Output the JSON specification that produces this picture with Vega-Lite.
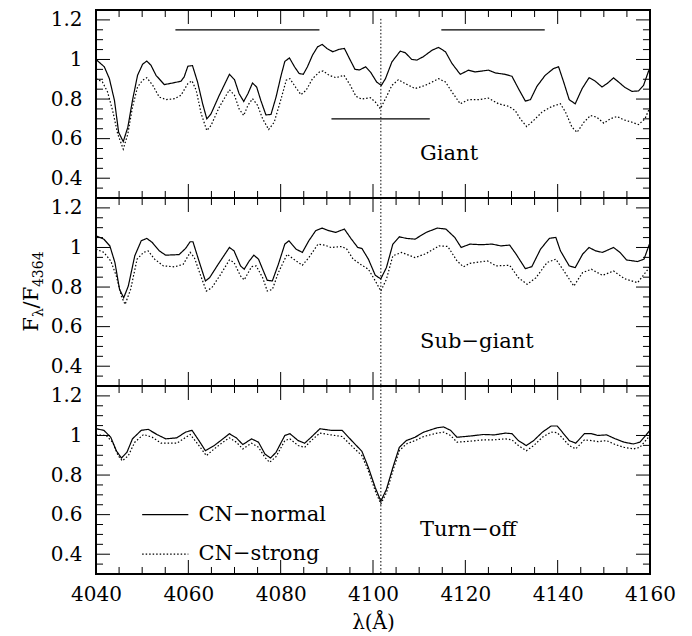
{
"$schema": "https://vega.github.io/schema/vega-lite/v6.json",
"padding": {"left": 19, "top": 8, "right": 10, "bottom": 2},
"background": "white",
"spacing": 0,
"bounds": "flush",
"config": {
  "view": {"stroke": "black", "strokeWidth": 2, "fill": "transparent"},
  "axis": {"domain": false, "grid": false, "ticks": false, "labelFont": "DejaVu Serif", "labelFontSize": 20, "labelColor": "black", "titleFont": "DejaVu Serif", "titleFontSize": 20, "titleFontWeight": "normal", "titleColor": "black", "labelOverlap": false, "labelFlush": false},
  "rule": {"color": "black", "strokeWidth": 1},
  "text": {"font": "DejaVu Serif", "fontSize": 21, "color": "black"}
},
"datasets": {
  "ticks": [
    {"xa":4060,"xb":4060,"ya":0.3,"yb":0.3707},{"xa":4080,"xb":4080,"ya":0.3,"yb":0.3707},{"xa":4100,"xb":4100,"ya":0.3,"yb":0.3707},{"xa":4120,"xb":4120,"ya":0.3,"yb":0.3707},{"xa":4140,"xb":4140,"ya":0.3,"yb":0.3707},
    {"xa":4060,"xb":4060,"ya":1.25,"yb":1.1793},{"xa":4080,"xb":4080,"ya":1.25,"yb":1.1793},{"xa":4100,"xb":4100,"ya":1.25,"yb":1.1793},{"xa":4120,"xb":4120,"ya":1.25,"yb":1.1793},{"xa":4140,"xb":4140,"ya":1.25,"yb":1.1793},
    {"xa":4045,"xb":4045,"ya":0.3,"yb":0.3354},{"xa":4050,"xb":4050,"ya":0.3,"yb":0.3354},{"xa":4055,"xb":4055,"ya":0.3,"yb":0.3354},{"xa":4065,"xb":4065,"ya":0.3,"yb":0.3354},{"xa":4070,"xb":4070,"ya":0.3,"yb":0.3354},{"xa":4075,"xb":4075,"ya":0.3,"yb":0.3354},{"xa":4085,"xb":4085,"ya":0.3,"yb":0.3354},{"xa":4090,"xb":4090,"ya":0.3,"yb":0.3354},{"xa":4095,"xb":4095,"ya":0.3,"yb":0.3354},{"xa":4105,"xb":4105,"ya":0.3,"yb":0.3354},{"xa":4110,"xb":4110,"ya":0.3,"yb":0.3354},{"xa":4115,"xb":4115,"ya":0.3,"yb":0.3354},{"xa":4125,"xb":4125,"ya":0.3,"yb":0.3354},{"xa":4130,"xb":4130,"ya":0.3,"yb":0.3354},{"xa":4135,"xb":4135,"ya":0.3,"yb":0.3354},{"xa":4145,"xb":4145,"ya":0.3,"yb":0.3354},{"xa":4150,"xb":4150,"ya":0.3,"yb":0.3354},{"xa":4155,"xb":4155,"ya":0.3,"yb":0.3354},
    {"xa":4045,"xb":4045,"ya":1.25,"yb":1.2146},{"xa":4050,"xb":4050,"ya":1.25,"yb":1.2146},{"xa":4055,"xb":4055,"ya":1.25,"yb":1.2146},{"xa":4065,"xb":4065,"ya":1.25,"yb":1.2146},{"xa":4070,"xb":4070,"ya":1.25,"yb":1.2146},{"xa":4075,"xb":4075,"ya":1.25,"yb":1.2146},{"xa":4085,"xb":4085,"ya":1.25,"yb":1.2146},{"xa":4090,"xb":4090,"ya":1.25,"yb":1.2146},{"xa":4095,"xb":4095,"ya":1.25,"yb":1.2146},{"xa":4105,"xb":4105,"ya":1.25,"yb":1.2146},{"xa":4110,"xb":4110,"ya":1.25,"yb":1.2146},{"xa":4115,"xb":4115,"ya":1.25,"yb":1.2146},{"xa":4125,"xb":4125,"ya":1.25,"yb":1.2146},{"xa":4130,"xb":4130,"ya":1.25,"yb":1.2146},{"xa":4135,"xb":4135,"ya":1.25,"yb":1.2146},{"xa":4145,"xb":4145,"ya":1.25,"yb":1.2146},{"xa":4150,"xb":4150,"ya":1.25,"yb":1.2146},{"xa":4155,"xb":4155,"ya":1.25,"yb":1.2146},
    {"xa":4040,"xb":4043.03,"ya":0.4,"yb":0.4},{"xa":4040,"xb":4043.03,"ya":0.6,"yb":0.6},{"xa":4040,"xb":4043.03,"ya":0.8,"yb":0.8},{"xa":4040,"xb":4043.03,"ya":1.0,"yb":1.0},{"xa":4040,"xb":4043.03,"ya":1.2,"yb":1.2},
    {"xa":4160,"xb":4156.97,"ya":0.4,"yb":0.4},{"xa":4160,"xb":4156.97,"ya":0.6,"yb":0.6},{"xa":4160,"xb":4156.97,"ya":0.8,"yb":0.8},{"xa":4160,"xb":4156.97,"ya":1.0,"yb":1.0},{"xa":4160,"xb":4156.97,"ya":1.2,"yb":1.2},
    {"xa":4040,"xb":4041.52,"ya":0.35,"yb":0.35},{"xa":4040,"xb":4041.52,"ya":0.45,"yb":0.45},{"xa":4040,"xb":4041.52,"ya":0.5,"yb":0.5},{"xa":4040,"xb":4041.52,"ya":0.55,"yb":0.55},{"xa":4040,"xb":4041.52,"ya":0.65,"yb":0.65},{"xa":4040,"xb":4041.52,"ya":0.7,"yb":0.7},{"xa":4040,"xb":4041.52,"ya":0.75,"yb":0.75},{"xa":4040,"xb":4041.52,"ya":0.85,"yb":0.85},{"xa":4040,"xb":4041.52,"ya":0.9,"yb":0.9},{"xa":4040,"xb":4041.52,"ya":0.95,"yb":0.95},{"xa":4040,"xb":4041.52,"ya":1.05,"yb":1.05},{"xa":4040,"xb":4041.52,"ya":1.1,"yb":1.1},{"xa":4040,"xb":4041.52,"ya":1.15,"yb":1.15},
    {"xa":4160,"xb":4158.48,"ya":0.35,"yb":0.35},{"xa":4160,"xb":4158.48,"ya":0.45,"yb":0.45},{"xa":4160,"xb":4158.48,"ya":0.5,"yb":0.5},{"xa":4160,"xb":4158.48,"ya":0.55,"yb":0.55},{"xa":4160,"xb":4158.48,"ya":0.65,"yb":0.65},{"xa":4160,"xb":4158.48,"ya":0.7,"yb":0.7},{"xa":4160,"xb":4158.48,"ya":0.75,"yb":0.75},{"xa":4160,"xb":4158.48,"ya":0.85,"yb":0.85},{"xa":4160,"xb":4158.48,"ya":0.9,"yb":0.9},{"xa":4160,"xb":4158.48,"ya":0.95,"yb":0.95},{"xa":4160,"xb":4158.48,"ya":1.05,"yb":1.05},{"xa":4160,"xb":4158.48,"ya":1.1,"yb":1.1},{"xa":4160,"xb":4158.48,"ya":1.15,"yb":1.15}
  ],
  "giant": [
    {"lam":4040,"f":1.0,"cn":"n"},{"lam":4041.8,"f":0.963,"cn":"n"},{"lam":4042.9,"f":0.903,"cn":"n"},{"lam":4044,"f":0.793,"cn":"n"},{"lam":4044.9,"f":0.632,"cn":"n"},{"lam":4045.9,"f":0.585,"cn":"n"},{"lam":4046.9,"f":0.658,"cn":"n"},{"lam":4047.9,"f":0.793,"cn":"n"},{"lam":4049,"f":0.92,"cn":"n"},{"lam":4050.1,"f":0.976,"cn":"n"},{"lam":4051,"f":0.992,"cn":"n"},{"lam":4051.9,"f":0.971,"cn":"n"},{"lam":4053,"f":0.92,"cn":"n"},{"lam":4054.8,"f":0.873,"cn":"n"},{"lam":4056.6,"f":0.881,"cn":"n"},{"lam":4058.4,"f":0.89,"cn":"n"},{"lam":4059.1,"f":0.912,"cn":"n"},{"lam":4059.9,"f":0.966,"cn":"n"},{"lam":4060.9,"f":0.969,"cn":"n"},{"lam":4062,"f":0.886,"cn":"n"},{"lam":4063.1,"f":0.776,"cn":"n"},{"lam":4064,"f":0.7,"cn":"n"},{"lam":4064.9,"f":0.725,"cn":"n"},{"lam":4066.7,"f":0.819,"cn":"n"},{"lam":4068.9,"f":0.925,"cn":"n"},{"lam":4070,"f":0.898,"cn":"n"},{"lam":4071,"f":0.827,"cn":"n"},{"lam":4072,"f":0.788,"cn":"n"},{"lam":4072.9,"f":0.827,"cn":"n"},{"lam":4073.9,"f":0.881,"cn":"n"},{"lam":4074.8,"f":0.861,"cn":"n"},{"lam":4075.7,"f":0.793,"cn":"n"},{"lam":4076.8,"f":0.72,"cn":"n"},{"lam":4077.9,"f":0.722,"cn":"n"},{"lam":4079,"f":0.81,"cn":"n"},{"lam":4080.1,"f":0.92,"cn":"n"},{"lam":4080.9,"f":0.99,"cn":"n"},{"lam":4081.9,"f":1.008,"cn":"n"},{"lam":4083,"f":0.963,"cn":"n"},{"lam":4084,"f":0.929,"cn":"n"},{"lam":4084.9,"f":0.925,"cn":"n"},{"lam":4085.8,"f":0.963,"cn":"n"},{"lam":4086.9,"f":1.022,"cn":"n"},{"lam":4088,"f":1.064,"cn":"n"},{"lam":4089,"f":1.076,"cn":"n"},{"lam":4090,"f":1.056,"cn":"n"},{"lam":4091.3,"f":1.039,"cn":"n"},{"lam":4092.6,"f":1.051,"cn":"n"},{"lam":4093.8,"f":1.056,"cn":"n"},{"lam":4095,"f":1.0,"cn":"n"},{"lam":4096.1,"f":0.95,"cn":"n"},{"lam":4097.1,"f":0.947,"cn":"n"},{"lam":4098.4,"f":0.963,"cn":"n"},{"lam":4099.5,"f":0.935,"cn":"n"},{"lam":4100.8,"f":0.886,"cn":"n"},{"lam":4101.8,"f":0.869,"cn":"n"},{"lam":4102.7,"f":0.903,"cn":"n"},{"lam":4104.1,"f":0.988,"cn":"n"},{"lam":4105.9,"f":1.042,"cn":"n"},{"lam":4107,"f":1.034,"cn":"n"},{"lam":4108.4,"f":1.0,"cn":"n"},{"lam":4109.5,"f":0.997,"cn":"n"},{"lam":4110.9,"f":1.014,"cn":"n"},{"lam":4112.8,"f":1.047,"cn":"n"},{"lam":4114.2,"f":1.061,"cn":"n"},{"lam":4115.7,"f":1.039,"cn":"n"},{"lam":4117.1,"f":0.98,"cn":"n"},{"lam":4118.9,"f":0.925,"cn":"n"},{"lam":4120.7,"f":0.946,"cn":"n"},{"lam":4122.1,"f":0.937,"cn":"n"},{"lam":4125,"f":0.946,"cn":"n"},{"lam":4126.5,"f":0.932,"cn":"n"},{"lam":4128.6,"f":0.925,"cn":"n"},{"lam":4130.1,"f":0.915,"cn":"n"},{"lam":4131.5,"f":0.853,"cn":"n"},{"lam":4133,"f":0.79,"cn":"n"},{"lam":4134.1,"f":0.797,"cn":"n"},{"lam":4135.5,"f":0.864,"cn":"n"},{"lam":4137.3,"f":0.92,"cn":"n"},{"lam":4139.1,"f":0.954,"cn":"n"},{"lam":4140.2,"f":0.963,"cn":"n"},{"lam":4141.3,"f":0.886,"cn":"n"},{"lam":4142.5,"f":0.797,"cn":"n"},{"lam":4143.8,"f":0.776,"cn":"n"},{"lam":4145.3,"f":0.853,"cn":"n"},{"lam":4146.8,"f":0.908,"cn":"n"},{"lam":4148.1,"f":0.891,"cn":"n"},{"lam":4149.6,"f":0.861,"cn":"n"},{"lam":4150.7,"f":0.878,"cn":"n"},{"lam":4152.1,"f":0.907,"cn":"n"},{"lam":4153.2,"f":0.886,"cn":"n"},{"lam":4154.6,"f":0.858,"cn":"n"},{"lam":4156.1,"f":0.839,"cn":"n"},{"lam":4157.5,"f":0.841,"cn":"n"},{"lam":4158.6,"f":0.869,"cn":"n"},{"lam":4159.7,"f":0.942,"cn":"n"},{"lam":4160,"f":0.95,"cn":"n"},
    {"lam":4040,"f":0.903,"cn":"s"},{"lam":4041.4,"f":0.886,"cn":"s"},{"lam":4042.5,"f":0.836,"cn":"s"},{"lam":4043.6,"f":0.742,"cn":"s"},{"lam":4044.7,"f":0.624,"cn":"s"},{"lam":4045.9,"f":0.547,"cn":"s"},{"lam":4046.9,"f":0.624,"cn":"s"},{"lam":4047.9,"f":0.759,"cn":"s"},{"lam":4049,"f":0.861,"cn":"s"},{"lam":4050.1,"f":0.895,"cn":"s"},{"lam":4051,"f":0.908,"cn":"s"},{"lam":4052.3,"f":0.869,"cn":"s"},{"lam":4053.7,"f":0.81,"cn":"s"},{"lam":4055.2,"f":0.797,"cn":"s"},{"lam":4057,"f":0.802,"cn":"s"},{"lam":4058.4,"f":0.819,"cn":"s"},{"lam":4059.9,"f":0.878,"cn":"s"},{"lam":4060.8,"f":0.892,"cn":"s"},{"lam":4061.7,"f":0.844,"cn":"s"},{"lam":4062.8,"f":0.725,"cn":"s"},{"lam":4064,"f":0.641,"cn":"s"},{"lam":4064.9,"f":0.666,"cn":"s"},{"lam":4066.7,"f":0.759,"cn":"s"},{"lam":4068.9,"f":0.847,"cn":"s"},{"lam":4070,"f":0.819,"cn":"s"},{"lam":4071,"f":0.75,"cn":"s"},{"lam":4072,"f":0.717,"cn":"s"},{"lam":4072.9,"f":0.768,"cn":"s"},{"lam":4073.9,"f":0.802,"cn":"s"},{"lam":4075,"f":0.768,"cn":"s"},{"lam":4076.1,"f":0.7,"cn":"s"},{"lam":4077.4,"f":0.646,"cn":"s"},{"lam":4078.6,"f":0.683,"cn":"s"},{"lam":4080.1,"f":0.802,"cn":"s"},{"lam":4081.2,"f":0.895,"cn":"s"},{"lam":4082,"f":0.903,"cn":"s"},{"lam":4083.3,"f":0.858,"cn":"s"},{"lam":4084.4,"f":0.822,"cn":"s"},{"lam":4085.5,"f":0.844,"cn":"s"},{"lam":4086.9,"f":0.903,"cn":"s"},{"lam":4088.4,"f":0.937,"cn":"s"},{"lam":4089.2,"f":0.942,"cn":"s"},{"lam":4090.5,"f":0.92,"cn":"s"},{"lam":4092,"f":0.908,"cn":"s"},{"lam":4093.7,"f":0.92,"cn":"s"},{"lam":4095,"f":0.873,"cn":"s"},{"lam":4096.3,"f":0.814,"cn":"s"},{"lam":4097.5,"f":0.8,"cn":"s"},{"lam":4099.4,"f":0.807,"cn":"s"},{"lam":4100.5,"f":0.785,"cn":"s"},{"lam":4101.6,"f":0.751,"cn":"s"},{"lam":4102.7,"f":0.802,"cn":"s"},{"lam":4104.1,"f":0.869,"cn":"s"},{"lam":4105.5,"f":0.898,"cn":"s"},{"lam":4107,"f":0.878,"cn":"s"},{"lam":4109.1,"f":0.853,"cn":"s"},{"lam":4111.3,"f":0.869,"cn":"s"},{"lam":4112.8,"f":0.886,"cn":"s"},{"lam":4114.2,"f":0.903,"cn":"s"},{"lam":4115.7,"f":0.886,"cn":"s"},{"lam":4117.1,"f":0.836,"cn":"s"},{"lam":4118.9,"f":0.776,"cn":"s"},{"lam":4120.7,"f":0.797,"cn":"s"},{"lam":4122.9,"f":0.797,"cn":"s"},{"lam":4125,"f":0.805,"cn":"s"},{"lam":4127.2,"f":0.776,"cn":"s"},{"lam":4129.4,"f":0.763,"cn":"s"},{"lam":4130.8,"f":0.742,"cn":"s"},{"lam":4131.9,"f":0.7,"cn":"s"},{"lam":4133.3,"f":0.661,"cn":"s"},{"lam":4134.8,"f":0.692,"cn":"s"},{"lam":4136.6,"f":0.734,"cn":"s"},{"lam":4138.8,"f":0.763,"cn":"s"},{"lam":4140.6,"f":0.776,"cn":"s"},{"lam":4141.7,"f":0.734,"cn":"s"},{"lam":4143.1,"f":0.658,"cn":"s"},{"lam":4144.2,"f":0.632,"cn":"s"},{"lam":4145.7,"f":0.683,"cn":"s"},{"lam":4147.1,"f":0.717,"cn":"s"},{"lam":4148.5,"f":0.708,"cn":"s"},{"lam":4150,"f":0.678,"cn":"s"},{"lam":4151.4,"f":0.7,"cn":"s"},{"lam":4152.9,"f":0.712,"cn":"s"},{"lam":4154.3,"f":0.695,"cn":"s"},{"lam":4156.1,"f":0.683,"cn":"s"},{"lam":4157.5,"f":0.671,"cn":"s"},{"lam":4158.9,"f":0.7,"cn":"s"},{"lam":4160,"f":0.759,"cn":"s"}
  ],
  "subgiant": [
    {"lam":4040,"f":1.059,"cn":"n"},{"lam":4041.7,"f":1.042,"cn":"n"},{"lam":4043,"f":1.008,"cn":"n"},{"lam":4044.1,"f":0.924,"cn":"n"},{"lam":4045.1,"f":0.788,"cn":"n"},{"lam":4046,"f":0.746,"cn":"n"},{"lam":4047,"f":0.805,"cn":"n"},{"lam":4048.4,"f":0.958,"cn":"n"},{"lam":4049.8,"f":1.034,"cn":"n"},{"lam":4051,"f":1.046,"cn":"n"},{"lam":4052.2,"f":1.025,"cn":"n"},{"lam":4053.7,"f":0.983,"cn":"n"},{"lam":4055.1,"f":0.961,"cn":"n"},{"lam":4058,"f":0.964,"cn":"n"},{"lam":4059.4,"f":0.995,"cn":"n"},{"lam":4060.4,"f":1.029,"cn":"n"},{"lam":4061,"f":1.029,"cn":"n"},{"lam":4062.3,"f":0.932,"cn":"n"},{"lam":4063.7,"f":0.831,"cn":"n"},{"lam":4064.6,"f":0.847,"cn":"n"},{"lam":4066.6,"f":0.92,"cn":"n"},{"lam":4068.9,"f":1.0,"cn":"n"},{"lam":4069.9,"f":0.983,"cn":"n"},{"lam":4071.3,"f":0.907,"cn":"n"},{"lam":4072.1,"f":0.89,"cn":"n"},{"lam":4073.2,"f":0.932,"cn":"n"},{"lam":4074.2,"f":0.961,"cn":"n"},{"lam":4075.2,"f":0.941,"cn":"n"},{"lam":4076.1,"f":0.89,"cn":"n"},{"lam":4077.1,"f":0.834,"cn":"n"},{"lam":4078.2,"f":0.831,"cn":"n"},{"lam":4079.5,"f":0.915,"cn":"n"},{"lam":4080.9,"f":1.017,"cn":"n"},{"lam":4081.8,"f":1.034,"cn":"n"},{"lam":4083.3,"f":0.992,"cn":"n"},{"lam":4084.7,"f":0.975,"cn":"n"},{"lam":4086.1,"f":1.034,"cn":"n"},{"lam":4087.6,"f":1.085,"cn":"n"},{"lam":4089,"f":1.098,"cn":"n"},{"lam":4090.4,"f":1.085,"cn":"n"},{"lam":4091.9,"f":1.076,"cn":"n"},{"lam":4093.8,"f":1.093,"cn":"n"},{"lam":4095.2,"f":1.046,"cn":"n"},{"lam":4096.7,"f":1.0,"cn":"n"},{"lam":4097.6,"f":0.995,"cn":"n"},{"lam":4099,"f":0.941,"cn":"n"},{"lam":4100.5,"f":0.859,"cn":"n"},{"lam":4101.7,"f":0.842,"cn":"n"},{"lam":4102.9,"f":0.898,"cn":"n"},{"lam":4104.3,"f":1.017,"cn":"n"},{"lam":4105.7,"f":1.054,"cn":"n"},{"lam":4107.2,"f":1.046,"cn":"n"},{"lam":4109.1,"f":1.042,"cn":"n"},{"lam":4111.5,"f":1.076,"cn":"n"},{"lam":4113.9,"f":1.098,"cn":"n"},{"lam":4115.8,"f":1.093,"cn":"n"},{"lam":4117.7,"f":1.051,"cn":"n"},{"lam":4119.1,"f":1.0,"cn":"n"},{"lam":4121,"f":1.017,"cn":"n"},{"lam":4123.4,"f":1.014,"cn":"n"},{"lam":4125.8,"f":1.017,"cn":"n"},{"lam":4127.7,"f":1.008,"cn":"n"},{"lam":4129.6,"f":1.012,"cn":"n"},{"lam":4131,"f":0.966,"cn":"n"},{"lam":4133,"f":0.893,"cn":"n"},{"lam":4134.4,"f":0.903,"cn":"n"},{"lam":4136.3,"f":0.992,"cn":"n"},{"lam":4138.2,"f":1.046,"cn":"n"},{"lam":4139.6,"f":1.051,"cn":"n"},{"lam":4140.6,"f":0.983,"cn":"n"},{"lam":4142.5,"f":0.907,"cn":"n"},{"lam":4143.8,"f":0.898,"cn":"n"},{"lam":4145.4,"f":0.966,"cn":"n"},{"lam":4146.8,"f":1.0,"cn":"n"},{"lam":4148.2,"f":0.983,"cn":"n"},{"lam":4149.7,"f":0.975,"cn":"n"},{"lam":4152.1,"f":1.0,"cn":"n"},{"lam":4153.5,"f":0.975,"cn":"n"},{"lam":4154.9,"f":0.937,"cn":"n"},{"lam":4157.3,"f":0.929,"cn":"n"},{"lam":4158.7,"f":0.941,"cn":"n"},{"lam":4160,"f":1.025,"cn":"n"},
    {"lam":4040,"f":0.992,"cn":"s"},{"lam":4041.7,"f":0.975,"cn":"s"},{"lam":4043.2,"f":0.932,"cn":"s"},{"lam":4044.4,"f":0.856,"cn":"s"},{"lam":4045.5,"f":0.754,"cn":"s"},{"lam":4046.3,"f":0.712,"cn":"s"},{"lam":4047.5,"f":0.788,"cn":"s"},{"lam":4048.9,"f":0.941,"cn":"s"},{"lam":4050.3,"f":0.975,"cn":"s"},{"lam":4051.3,"f":0.983,"cn":"s"},{"lam":4052.7,"f":0.941,"cn":"s"},{"lam":4054.6,"f":0.907,"cn":"s"},{"lam":4057,"f":0.902,"cn":"s"},{"lam":4058.9,"f":0.915,"cn":"s"},{"lam":4060.4,"f":0.975,"cn":"s"},{"lam":4061.3,"f":0.949,"cn":"s"},{"lam":4062.7,"f":0.856,"cn":"s"},{"lam":4063.9,"f":0.78,"cn":"s"},{"lam":4065.1,"f":0.797,"cn":"s"},{"lam":4067,"f":0.864,"cn":"s"},{"lam":4068.9,"f":0.937,"cn":"s"},{"lam":4069.9,"f":0.924,"cn":"s"},{"lam":4071.3,"f":0.856,"cn":"s"},{"lam":4072.1,"f":0.836,"cn":"s"},{"lam":4073.7,"f":0.903,"cn":"s"},{"lam":4074.7,"f":0.907,"cn":"s"},{"lam":4076.1,"f":0.847,"cn":"s"},{"lam":4077.1,"f":0.78,"cn":"s"},{"lam":4078.2,"f":0.788,"cn":"s"},{"lam":4079.5,"f":0.873,"cn":"s"},{"lam":4081.4,"f":0.966,"cn":"s"},{"lam":4082.8,"f":0.941,"cn":"s"},{"lam":4084.7,"f":0.91,"cn":"s"},{"lam":4086.1,"f":0.949,"cn":"s"},{"lam":4088.1,"f":1.017,"cn":"s"},{"lam":4089.5,"f":1.012,"cn":"s"},{"lam":4090.9,"f":1.0,"cn":"s"},{"lam":4093.3,"f":1.005,"cn":"s"},{"lam":4094.3,"f":0.992,"cn":"s"},{"lam":4095.7,"f":0.941,"cn":"s"},{"lam":4097.6,"f":0.91,"cn":"s"},{"lam":4099,"f":0.89,"cn":"s"},{"lam":4100.5,"f":0.831,"cn":"s"},{"lam":4101.7,"f":0.78,"cn":"s"},{"lam":4102.9,"f":0.839,"cn":"s"},{"lam":4104.3,"f":0.958,"cn":"s"},{"lam":4106.2,"f":0.975,"cn":"s"},{"lam":4109.1,"f":0.949,"cn":"s"},{"lam":4111.5,"f":0.969,"cn":"s"},{"lam":4114.3,"f":1.008,"cn":"s"},{"lam":4116.2,"f":1.005,"cn":"s"},{"lam":4118.2,"f":0.932,"cn":"s"},{"lam":4119.6,"f":0.902,"cn":"s"},{"lam":4121,"f":0.92,"cn":"s"},{"lam":4124.8,"f":0.932,"cn":"s"},{"lam":4126.7,"f":0.907,"cn":"s"},{"lam":4129.6,"f":0.91,"cn":"s"},{"lam":4131.5,"f":0.847,"cn":"s"},{"lam":4133.4,"f":0.814,"cn":"s"},{"lam":4135.3,"f":0.847,"cn":"s"},{"lam":4137.7,"f":0.924,"cn":"s"},{"lam":4139.6,"f":0.941,"cn":"s"},{"lam":4141.1,"f":0.89,"cn":"s"},{"lam":4143.5,"f":0.805,"cn":"s"},{"lam":4145.4,"f":0.873,"cn":"s"},{"lam":4147.3,"f":0.89,"cn":"s"},{"lam":4149.7,"f":0.859,"cn":"s"},{"lam":4152.1,"f":0.881,"cn":"s"},{"lam":4154.5,"f":0.842,"cn":"s"},{"lam":4157.3,"f":0.822,"cn":"s"},{"lam":4160,"f":0.903,"cn":"s"}
  ],
  "turnoff": [
    {"lam":4040,"f":1.034,"cn":"n"},{"lam":4041.7,"f":1.026,"cn":"n"},{"lam":4043.2,"f":0.991,"cn":"n"},{"lam":4044.4,"f":0.923,"cn":"n"},{"lam":4045.5,"f":0.886,"cn":"n"},{"lam":4046.7,"f":0.915,"cn":"n"},{"lam":4047.9,"f":0.983,"cn":"n"},{"lam":4049.8,"f":1.026,"cn":"n"},{"lam":4051.3,"f":1.031,"cn":"n"},{"lam":4053.2,"f":1.005,"cn":"n"},{"lam":4055.1,"f":0.983,"cn":"n"},{"lam":4057.5,"f":0.988,"cn":"n"},{"lam":4059.4,"f":1.017,"cn":"n"},{"lam":4060.8,"f":1.026,"cn":"n"},{"lam":4062.3,"f":0.974,"cn":"n"},{"lam":4063.7,"f":0.923,"cn":"n"},{"lam":4065.6,"f":0.949,"cn":"n"},{"lam":4067.5,"f":0.983,"cn":"n"},{"lam":4068.9,"f":1.009,"cn":"n"},{"lam":4070.4,"f":0.988,"cn":"n"},{"lam":4071.8,"f":0.954,"cn":"n"},{"lam":4073.7,"f":0.983,"cn":"n"},{"lam":4075.2,"f":0.966,"cn":"n"},{"lam":4076.6,"f":0.906,"cn":"n"},{"lam":4077.8,"f":0.886,"cn":"n"},{"lam":4079,"f":0.915,"cn":"n"},{"lam":4080.9,"f":1.0,"cn":"n"},{"lam":4082,"f":1.009,"cn":"n"},{"lam":4083.8,"f":0.974,"cn":"n"},{"lam":4085.2,"f":0.961,"cn":"n"},{"lam":4086.6,"f":0.991,"cn":"n"},{"lam":4088.5,"f":1.034,"cn":"n"},{"lam":4090.9,"f":1.026,"cn":"n"},{"lam":4093.3,"f":1.026,"cn":"n"},{"lam":4095.7,"f":0.966,"cn":"n"},{"lam":4097.6,"f":0.92,"cn":"n"},{"lam":4099,"f":0.838,"cn":"n"},{"lam":4100.5,"f":0.736,"cn":"n"},{"lam":4101.7,"f":0.668,"cn":"n"},{"lam":4102.9,"f":0.727,"cn":"n"},{"lam":4104.3,"f":0.838,"cn":"n"},{"lam":4105.7,"f":0.94,"cn":"n"},{"lam":4107.2,"f":0.974,"cn":"n"},{"lam":4109.1,"f":0.991,"cn":"n"},{"lam":4111,"f":1.017,"cn":"n"},{"lam":4113.9,"f":1.039,"cn":"n"},{"lam":4115.3,"f":1.043,"cn":"n"},{"lam":4116.8,"f":1.026,"cn":"n"},{"lam":4118.2,"f":0.991,"cn":"n"},{"lam":4121,"f":0.997,"cn":"n"},{"lam":4123.9,"f":1.005,"cn":"n"},{"lam":4126.3,"f":1.003,"cn":"n"},{"lam":4128.7,"f":1.012,"cn":"n"},{"lam":4130.1,"f":1.009,"cn":"n"},{"lam":4131.5,"f":0.974,"cn":"n"},{"lam":4133.2,"f":0.949,"cn":"n"},{"lam":4134.8,"f":0.974,"cn":"n"},{"lam":4136.7,"f":1.017,"cn":"n"},{"lam":4138.6,"f":1.048,"cn":"n"},{"lam":4139.9,"f":1.048,"cn":"n"},{"lam":4141,"f":1.017,"cn":"n"},{"lam":4142.5,"f":0.974,"cn":"n"},{"lam":4143.9,"f":0.961,"cn":"n"},{"lam":4145.8,"f":1.009,"cn":"n"},{"lam":4147.3,"f":1.009,"cn":"n"},{"lam":4148.7,"f":1.0,"cn":"n"},{"lam":4150.6,"f":1.003,"cn":"n"},{"lam":4152.5,"f":0.983,"cn":"n"},{"lam":4154.4,"f":0.966,"cn":"n"},{"lam":4156.4,"f":0.957,"cn":"n"},{"lam":4157.8,"f":0.966,"cn":"n"},{"lam":4160,"f":1.026,"cn":"n"},
    {"lam":4040,"f":1.003,"cn":"s"},{"lam":4042.2,"f":1.0,"cn":"s"},{"lam":4043.6,"f":0.966,"cn":"s"},{"lam":4044.8,"f":0.898,"cn":"s"},{"lam":4045.7,"f":0.872,"cn":"s"},{"lam":4047,"f":0.898,"cn":"s"},{"lam":4048.4,"f":0.966,"cn":"s"},{"lam":4050.3,"f":1.005,"cn":"s"},{"lam":4052.2,"f":0.991,"cn":"s"},{"lam":4054.1,"f":0.961,"cn":"s"},{"lam":4057.5,"f":0.961,"cn":"s"},{"lam":4060.4,"f":1.005,"cn":"s"},{"lam":4062.3,"f":0.949,"cn":"s"},{"lam":4063.9,"f":0.898,"cn":"s"},{"lam":4065.6,"f":0.932,"cn":"s"},{"lam":4067.5,"f":0.966,"cn":"s"},{"lam":4068.9,"f":0.988,"cn":"s"},{"lam":4070.4,"f":0.966,"cn":"s"},{"lam":4071.8,"f":0.932,"cn":"s"},{"lam":4073.7,"f":0.961,"cn":"s"},{"lam":4075.2,"f":0.94,"cn":"s"},{"lam":4076.6,"f":0.889,"cn":"s"},{"lam":4077.6,"f":0.864,"cn":"s"},{"lam":4079,"f":0.893,"cn":"s"},{"lam":4080.9,"f":0.974,"cn":"s"},{"lam":4082,"f":0.983,"cn":"s"},{"lam":4083.8,"f":0.949,"cn":"s"},{"lam":4085.2,"f":0.94,"cn":"s"},{"lam":4086.6,"f":0.974,"cn":"s"},{"lam":4088.5,"f":1.012,"cn":"s"},{"lam":4090.9,"f":1.003,"cn":"s"},{"lam":4093.3,"f":0.995,"cn":"s"},{"lam":4095.7,"f":0.94,"cn":"s"},{"lam":4097.6,"f":0.898,"cn":"s"},{"lam":4099,"f":0.821,"cn":"s"},{"lam":4100.5,"f":0.719,"cn":"s"},{"lam":4101.7,"f":0.654,"cn":"s"},{"lam":4102.9,"f":0.71,"cn":"s"},{"lam":4104.3,"f":0.821,"cn":"s"},{"lam":4105.7,"f":0.923,"cn":"s"},{"lam":4107.2,"f":0.957,"cn":"s"},{"lam":4109.1,"f":0.974,"cn":"s"},{"lam":4111,"f":0.995,"cn":"s"},{"lam":4113.9,"f":1.012,"cn":"s"},{"lam":4115.3,"f":1.017,"cn":"s"},{"lam":4116.8,"f":1.0,"cn":"s"},{"lam":4118.2,"f":0.966,"cn":"s"},{"lam":4121,"f":0.971,"cn":"s"},{"lam":4123.9,"f":0.978,"cn":"s"},{"lam":4126.3,"f":0.978,"cn":"s"},{"lam":4128.7,"f":0.983,"cn":"s"},{"lam":4130.1,"f":0.978,"cn":"s"},{"lam":4131.5,"f":0.949,"cn":"s"},{"lam":4133.2,"f":0.923,"cn":"s"},{"lam":4134.8,"f":0.949,"cn":"s"},{"lam":4136.7,"f":0.991,"cn":"s"},{"lam":4138.6,"f":1.017,"cn":"s"},{"lam":4139.9,"f":1.014,"cn":"s"},{"lam":4141,"f":0.988,"cn":"s"},{"lam":4142.5,"f":0.949,"cn":"s"},{"lam":4143.9,"f":0.932,"cn":"s"},{"lam":4145.8,"f":0.978,"cn":"s"},{"lam":4147.3,"f":0.974,"cn":"s"},{"lam":4148.7,"f":0.969,"cn":"s"},{"lam":4150.6,"f":0.974,"cn":"s"},{"lam":4152.5,"f":0.954,"cn":"s"},{"lam":4154.4,"f":0.94,"cn":"s"},{"lam":4156.4,"f":0.932,"cn":"s"},{"lam":4157.8,"f":0.94,"cn":"s"},{"lam":4160,"f":1.0,"cn":"s"}
  ]
},
"vconcat": [
  {
    "width": 554, "height": 188,
    "encoding": {
      "x": {"type": "quantitative", "scale": {"domain": [4040, 4160], "nice": false, "zero": false}, "axis": null},
      "y": {"type": "quantitative", "scale": {"domain": [0.3, 1.25], "nice": false, "zero": false}, "axis": {"orient": "left", "values": [0.4,0.6,0.8,1,1.2], "format": ".1~f", "labelPadding": 14, "title": null}}
    },
    "layer": [
      {"data": {"name": "giant"},
       "mark": {"type": "line", "color": "black", "strokeWidth": 1.2},
       "encoding": {
         "x": {"field": "lam"}, "y": {"field": "f"},
         "strokeDash": {"field": "cn", "type": "nominal", "scale": {"domain": ["n", "s"], "range": [[1, 0], [1.5, 2]]}, "legend": null}
       }},
      {"data": {"name": "ticks"}, "mark": "rule",
       "encoding": {"x": {"field": "xa"}, "x2": {"field": "xb"}, "y": {"field": "ya"}, "y2": {"field": "yb"}}},
      {"data": {"values": [{"lam": 4101.7, "top": 1.205, "bot": 0.3}]},
       "mark": {"type": "rule", "strokeDash": [1.5, 2]},
       "encoding": {"x": {"field": "lam"}, "y": {"field": "top"}, "y2": {"field": "bot"}}},
      {"data": {"values": [{"a": 4057.2, "b": 4088.4, "y": 1.15}, {"a": 4114.8, "b": 4137.2, "y": 1.15}, {"a": 4091, "b": 4112.3, "y": 0.7}]},
       "mark": {"type": "rule", "strokeWidth": 1.2},
       "encoding": {"x": {"field": "a"}, "x2": {"field": "b"}, "y": {"field": "y"}}},
      {"data": {"values": [{"lam": 4110.2, "f": 0.492, "label": "Giant"}]},
       "mark": {"type": "text", "align": "left", "baseline": "alphabetic"},
       "encoding": {"x": {"field": "lam"}, "y": {"field": "f"}, "text": {"field": "label"}}}
    ]
  },
  {
    "width": 554, "height": 188,
    "encoding": {
      "x": {"type": "quantitative", "scale": {"domain": [4040, 4160], "nice": false, "zero": false}, "axis": null},
      "y": {"type": "quantitative", "scale": {"domain": [0.3, 1.25], "nice": false, "zero": false}, "axis": {"orient": "left", "values": [0.4,0.6,0.8,1,1.2], "format": ".1~f", "labelPadding": 14, "title": null}}
    },
    "layer": [
      {"data": {"name": "subgiant"},
       "mark": {"type": "line", "color": "black", "strokeWidth": 1.2},
       "encoding": {
         "x": {"field": "lam"}, "y": {"field": "f"},
         "strokeDash": {"field": "cn", "type": "nominal", "scale": {"domain": ["n", "s"], "range": [[1, 0], [1.5, 2]]}, "legend": null}
       }},
      {"data": {"name": "ticks"}, "mark": "rule",
       "encoding": {"x": {"field": "xa"}, "x2": {"field": "xb"}, "y": {"field": "ya"}, "y2": {"field": "yb"}}},
      {"data": {"values": [{"lam": 4101.7, "top": 1.25, "bot": 0.3}]},
       "mark": {"type": "rule", "strokeDash": [1.5, 2]},
       "encoding": {"x": {"field": "lam"}, "y": {"field": "top"}, "y2": {"field": "bot"}}},
      {"data": {"values": [{"lam": 4027.4, "f": 0.574, "t": "F"}, {"lam": 4027.4, "f": 0.692, "t": "/"}, {"lam": 4027.4, "f": 0.728, "t": "F"}]},
       "mark": {"type": "text", "align": "left", "baseline": "alphabetic", "angle": 270, "fontSize": 21},
       "encoding": {"x": {"field": "lam"}, "y": {"field": "f"}, "text": {"field": "t"}}},
      {"data": {"values": [{"lam": 4028.6, "f": 0.649, "t": "λ"}, {"lam": 4028.6, "f": 0.8, "t": "4364"}]},
       "mark": {"type": "text", "align": "left", "baseline": "alphabetic", "angle": 270, "fontSize": 14},
       "encoding": {"x": {"field": "lam"}, "y": {"field": "f"}, "text": {"field": "t"}}},
      {"data": {"values": [{"lam": 4110.2, "f": 0.492, "label": "Sub−giant"}]},
       "mark": {"type": "text", "align": "left", "baseline": "alphabetic"},
       "encoding": {"x": {"field": "lam"}, "y": {"field": "f"}, "text": {"field": "label"}}}
    ]
  },
  {
    "width": 554, "height": 188,
    "encoding": {
      "x": {"type": "quantitative", "scale": {"domain": [4040, 4160], "nice": false, "zero": false}, "axis": {"orient": "bottom", "values": [4040,4060,4080,4100,4120,4140,4160], "format": "d", "labelPadding": 10, "title": "λ(Å)", "titlePadding": 8}},
      "y": {"type": "quantitative", "scale": {"domain": [0.3, 1.25], "nice": false, "zero": false}, "axis": {"orient": "left", "values": [0.4,0.6,0.8,1,1.2], "format": ".1~f", "labelPadding": 14, "title": null}}
    },
    "layer": [
      {"data": {"name": "turnoff"},
       "mark": {"type": "line", "color": "black", "strokeWidth": 1.2},
       "encoding": {
         "x": {"field": "lam"}, "y": {"field": "f"},
         "strokeDash": {"field": "cn", "type": "nominal", "scale": {"domain": ["n", "s"], "range": [[1, 0], [1.5, 2]]}, "legend": null}
       }},
      {"data": {"name": "ticks"}, "mark": "rule",
       "encoding": {"x": {"field": "xa"}, "x2": {"field": "xb"}, "y": {"field": "ya"}, "y2": {"field": "yb"}}},
      {"data": {"values": [{"lam": 4101.7, "top": 1.25, "bot": 0.3}]},
       "mark": {"type": "rule", "strokeDash": [1.5, 2]},
       "encoding": {"x": {"field": "lam"}, "y": {"field": "top"}, "y2": {"field": "bot"}}},
      {"data": {"values": [{"a": 4050, "b": 4060, "y": 0.6, "cn": "n"}, {"a": 4050, "b": 4060, "y": 0.4, "cn": "s"}]},
       "mark": {"type": "rule", "strokeWidth": 1.2},
       "encoding": {
         "x": {"field": "a"}, "x2": {"field": "b"}, "y": {"field": "y"},
         "strokeDash": {"field": "cn", "type": "nominal", "scale": {"domain": ["n", "s"], "range": [[1, 0], [1.5, 2]]}, "legend": null}
       }},
      {"data": {"values": [{"lam": 4062.2, "f": 0.6, "label": "CN−normal"}, {"lam": 4062.2, "f": 0.4, "label": "CN−strong"}]},
       "mark": {"type": "text", "align": "left", "baseline": "middle"},
       "encoding": {"x": {"field": "lam"}, "y": {"field": "f"}, "text": {"field": "label"}}},
      {"data": {"values": [{"lam": 4110.2, "f": 0.492, "label": "Turn−off"}]},
       "mark": {"type": "text", "align": "left", "baseline": "alphabetic"},
       "encoding": {"x": {"field": "lam"}, "y": {"field": "f"}, "text": {"field": "label"}}}
    ]
  }
]
}
